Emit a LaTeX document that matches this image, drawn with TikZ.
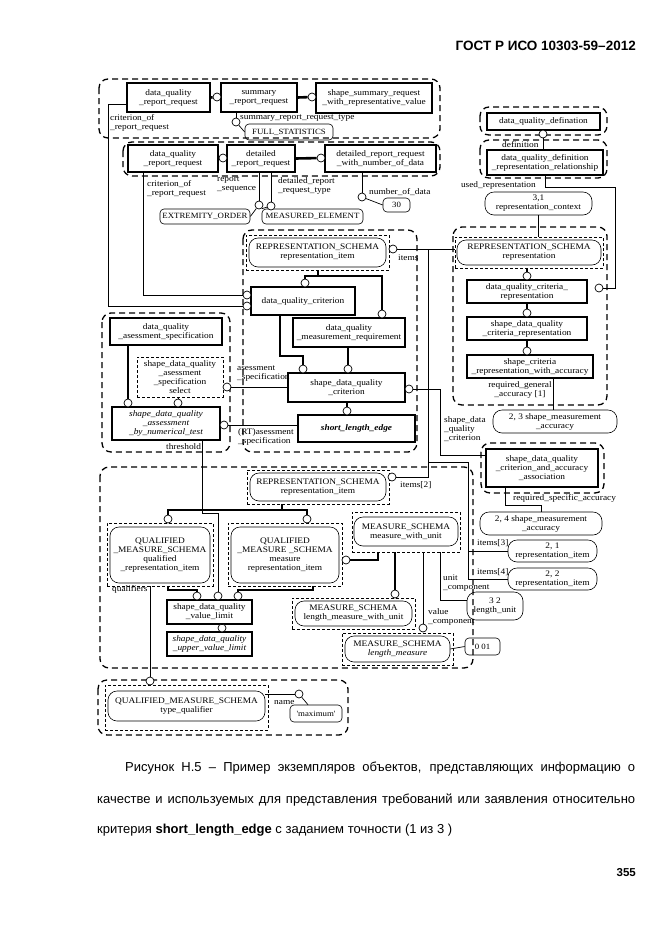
\documentclass[tikz,border=0pt]{standalone}
\usepackage{fontspec}
\setmainfont{Liberation Serif}[FakeStretch=1.1]
\newfontfamily\capfont{Liberation Sans}
\newcommand{\dgfont}{\fontsize{8.5}{9}\selectfont}
\newcommand{\valfont}{\fontsize{8}{9}\selectfont}
\newcommand{\capsize}{\capfont\fontsize{13}{15}\selectfont}
\tikzset{
  spot/.style args={#1/#2/#3/#4}{at={({(#1+#3)/2},{(#2+#4)/2})}, minimum width={#3-#1}, minimum height={#4-#2}},
  ent/.style={draw, line width=1.2pt, inner sep=0pt, align=center, font=\dgfont},
  typ/.style={draw, line width=0.6pt, rounded corners=9pt, inner sep=0pt, align=center, font=\dgfont},
  val/.style={draw, line width=0.6pt, rounded corners=4pt, inner sep=0pt, align=center, font=\valfont},
  dsh/.style={draw, line width=0.8pt, dash pattern=on 3pt off 2pt, inner sep=0pt, align=center, font=\dgfont},
  grp/.style={draw, line width=1.3pt, dash pattern=on 6pt off 4pt, rounded corners=9pt},
  oc/.style={circle, draw, fill=white, line width=0.7pt, inner sep=0pt, minimum size=8pt},
  sub/.style={line width=2.6pt},
  rel/.style={line width=0.7pt},
  lbl/.style={font=\dgfont, inner sep=0pt, align=left},
}
\begin{document}
\begin{tikzpicture}[x=1pt,y=-1pt]
\useasboundingbox (0,0) rectangle (661,935);
\node[anchor=east, inner sep=0pt, font={\capfont\bfseries\fontsize{13.5}{15}\selectfont}] (hdr) at (636,46) {ГОСТ Р ИСО 10303-59–2012};
\node[anchor=east, inner sep=0pt, font={\capfont\bfseries\fontsize{11.5}{14}\selectfont}] (pg) at (636,873) {355};
\node[anchor=west, inner sep=0pt, font=\capsize] (capA) at (125,768) {\makebox[510pt][s]{Рисунок Н.5 – Пример экземпляров объектов, представляющих информацию о}};
\node[anchor=west, inner sep=0pt, font=\capsize] (capB) at (97,800) {\makebox[538pt][s]{качестве и используемых для представления требований или заявления относительно}};
\node[anchor=west, inner sep=0pt, font=\capsize] (capC) at (97,830) {критерия \textbf{short\_length\_edge} с заданием точности (1 из 3 )};

\draw[grp] (99,79) rectangle (440,138);
\draw[grp] (123,142) rectangle (440,176);
\draw[grp] (480,107) rectangle (607,135);
\draw[grp] (480,140) rectangle (607,178);
\draw[grp] (243,230) rectangle (417,452);
\draw[grp] (102,313) rectangle (230,452);
\draw[grp] (453,227) rectangle (607,405);
\draw[grp] (481,443) rectangle (604,493);
\draw[grp] (100,467) rectangle (473,668);
\draw[grp] (98,680) rectangle (348,735);

\node[ent, spot=127/83/210/112] (dqrrA) {data\_quality\\\_report\_request};
\node[ent, spot=221/83/297/112] (summ) {summary\\\_report\_request};
\node[ent, spot=316/83/432/113] (ssr) {shape\_summary\_request\\\_with\_representative\_value};
\node[ent, spot=128/145/218/172] (dqrrB) {data\_quality\\\_report\_request};
\node[ent, spot=227/145/295/172] (det) {detailed\\\_report\_request};
\node[ent, spot=325/145/436/172] (detn) {detailed\_report\_request\\\_with\_number\_of\_data};
\node[ent, spot=487/113/600/130] (dqdef) {data\_quality\_defination};
\node[ent, spot=487/150/603/175] (dqdrr) {data\_quality\_definition\\\_representation\_relationship};

\node[dsh, spot=246/235/389/270] (riMf) {};
\node[typ, spot=249/238/386/267] (riM) {REPRESENTATION\_SCHEMA\\representation\_item};
\node[ent, spot=251/287/355/315] (dqc) {data\_quality\_criterion};
\node[ent, spot=293/318/405/347] (dqmr) {data\_quality\\\_measurement\_requirement};
\node[ent, spot=288/373/405/402] (sdqc) {shape\_data\_quality\\\_criterion};
\node[ent, spot=298/415/415/442, font=\dgfont\bfseries\itshape] (sle) {short\_length\_edge};

\node[ent, spot=110/318/222/345] (dqas) {data\_quality\\\_asessment\_specification};
\node[dsh, spot=137/357/223/397] (sel) {shape\_data\_quality\\\_asessment\\\_specification\\select};
\node[ent, spot=112/407/220/440, font=\dgfont\itshape] (nt) {shape\_data\_quality\\\_assessment\\\_by\_numerical\_test};

\node[typ, spot=485/192/592/215] (rc) {3,1\\representation\_context};
\node[dsh, spot=455/237/603/268] (rsrf) {};
\node[typ, spot=457/240/601/265] (rsr) {REPRESENTATION\_SCHEMA\\representation};
\node[ent, spot=467/280/587/303] (dqcr) {data\_quality\_criteria\_\\representation};
\node[ent, spot=467/317/587/340] (sdqcr) {shape\_data\_quality\\\_criteria\_representation};
\node[ent, spot=467/355/593/378] (scrwa) {shape\_criteria\\\_representation\_with\_accuracy};
\node[typ, spot=493/410/617/433] (aA) {2, 3 shape\_measurement\\\_accuracy};
\node[ent, spot=486/449/598/487] (assoc) {shape\_data\_quality\\\_criterion\_and\_accuracy\\\_association};
\node[typ, spot=480/512/602/535] (aB) {2, 4 shape\_measurement\\\_accuracy};
\node[typ, spot=508/540/597/562] (riA) {2, 1\\representation\_item};
\node[typ, spot=508/568/597/590] (riB) {2, 2\\representation\_item};
\node[typ, spot=467/592/523/620] (lu) {3 2\\length\_unit};

\node[dsh, spot=247/470/389/504] (riQf) {};
\node[typ, spot=250/473/386/501] (riQ) {REPRESENTATION\_SCHEMA\\representation\_item};
\node[dsh, spot=107/523/213/586] (qrif) {};
\node[typ, spot=110/527/210/583] (qri) {QUALIFIED\\\_MEASURE\_SCHEMA\\qualified\\\_representation\_item};
\node[dsh, spot=228/523/342/586] (mrif) {};
\node[typ, spot=231/527/339/583] (mri) {QUALIFIED\\\_MEASURE \_SCHEMA\\measure\\representation\_item};
\node[dsh, spot=352/512/460/552] (mwuf) {};
\node[typ, spot=354/517/458/546] (mwu) {MEASURE\_SCHEMA\\measure\_with\_unit};
\node[dsh, spot=292/598/415/629] (lmwuf) {};
\node[typ, spot=295/601/412/626] (lmwu) {MEASURE\_SCHEMA\\length\_measure\_with\_unit};
\node[dsh, spot=342/633/453/665] (lmf) {};
\node[typ, spot=345/636/450/662] (lm) {MEASURE\_SCHEMA\\\textit{length\_measure}};
\node[ent, spot=167/600/252/624] (svl) {shape\_data\_quality\\\_value\_limit};
\node[ent, spot=167/632/252/656, font=\dgfont\itshape] (suvl) {shape\_data\_quality\\\_upper\_value\_limit};
\node[dsh, spot=105/685/268/730] (tqf) {};
\node[typ, spot=108/691/265/721] (tq) {QUALIFIED\_MEASURE\_SCHEMA\\type\_qualifier};

\node[val, spot=245/124/333/140] (vFull) {FULL\_STATISTICS};
\node[val, spot=160/209/250/224] (vExt) {EXTREMITY\_ORDER};
\node[val, spot=262/209/363/224] (vMeas) {MEASURED\_ELEMENT};
\node[val, spot=383/198/410/212] (v30) {30};
\node[val, spot=465/638/500/655] (v001) {0 01};
\node[val, spot=290/705/342/722] (vMax) {\textquotesingle maximum\textquotesingle};

\node[oc] (cSumm) at (217,97) {};
\node[oc] (cSsr) at (312,97) {};
\node[oc] (cFull) at (236,122) {};
\node[oc] (cDet) at (223,158) {};
\node[oc] (cDetn) at (321,158) {};
\node[oc] (cSeq) at (259,205) {};
\node[oc] (cType) at (271,206) {};
\node[oc] (cNum) at (362,197) {};
\node[oc] (cDef) at (543,134) {};
\node[oc] (cCritA) at (247,295) {};
\node[oc] (cCritB) at (247,306) {};
\node[oc] (cItem) at (393,249) {};
\node[oc] (cDqc) at (305,283) {};
\node[oc] (cDqmr) at (382,314) {};
\node[oc] (cSdqcA) at (303,369) {};
\node[oc] (cSdqcB) at (348,369) {};
\node[oc] (cSdqcR) at (409,389) {};
\node[oc] (cSle) at (347,411) {};
\node[oc] (cNtA) at (128,403) {};
\node[oc] (cNtB) at (178,403) {};
\node[oc] (cSel) at (227,387) {};
\node[oc] (cNtR) at (224,425) {};
\node[oc] (cDqcr) at (527,276) {};
\node[oc] (cSdqcr) at (527,313) {};
\node[oc] (cScrwa) at (527,351) {};
\node[oc] (cUsed) at (599,288) {};
\node[oc] (cItemQ) at (392,477) {};
\node[oc] (cQri) at (168,519) {};
\node[oc] (cMri) at (307,519) {};
\node[oc] (cMriR) at (346,560) {};
\node[oc] (cLmwu) at (395,594) {};
\node[oc] (cLm) at (423,628) {};
\node[oc] (cSvlA) at (197,596) {};
\node[oc] (cSvlB) at (218,596) {};
\node[oc] (cSvlC) at (238,596) {};
\node[oc] (cSuvl) at (222,628) {};
\node[oc] (cTq) at (150,681) {};
\node[oc] (cName) at (299,694) {};

\draw[sub] (dqrrA.east) -- (cSumm);
\draw[sub] (summ.east) -- (cSsr);
\draw[rel] (summ.south -| cFull) -- (cFull);
\draw[rel] (cFull) -- (vFull.west);
\draw[rel] (dqrrA.west |- 0,104) -- (108,104) -- (108,306) -- (cCritB);
\draw[rel] (dqrrB.east) -- (cDet);
\draw[sub] (det.east) -- (cDetn);
\draw[rel] (dqrrB.south -| 143,0) -- (143,295) -- (cCritA);
\draw[rel] (det.south -| cSeq) -- (cSeq);
\draw[rel] (cSeq) -- (vExt.east);
\draw[rel] (det.south -| cType) -- (cType);
\draw[rel] (cType) -- (vMeas.north west);
\draw[rel] (detn.south -| cNum) -- (cNum);
\draw[rel] (cNum) -- (v30.west);
\draw[rel] (dqdrr.north -| cDef) -- (cDef);
\draw[rel] (dqdrr.south -| 545,0) -- (545,187) -- (615,187) -- (615,288) -- (cUsed);
\draw[rel] (rc.south) -- (rc.south |- rsrf.north);
\draw[rel] (rsrf.west |- cItem) -- (cItem);
\draw[rel] (428,249) -- (428,477) -- (cItemQ);
\draw[rel] (428,462) -- (468,462) -- (468,579) -- (riB.west);
\draw[rel] (468,551) -- (riA.west);

\draw[sub] (riMf.south -| 318,0) -- (318,276) -| (cDqc);
\draw[sub] (318,276) -| (cDqmr);
\draw[sub] (dqc.south -| 280,0) -- (280,356) -| (cSdqcA);
\draw[sub] (dqmr.south -| cSdqcB) -- (cSdqcB);
\draw[sub] (sdqc.south -| cSle) -- (cSle);
\draw[rel] (cSdqcR) -- (440,389) -- (440,455) -- (assoc.west |- 0,455);
\draw[rel] (sle.west |- cNtR) -- (cNtR);
\draw[rel] (sdqc.west |- cSel) -- (cSel);
\draw[sub] (dqas.south -| cNtA) -- (cNtA);
\draw[rel] (sel.south -| cNtB) -- (cNtB);
\draw[rel] (nt.south -| 202,0) -- (202,513) -- (218,513) -- (cSvlB);

\draw[sub] (rsrf.south -| cDqcr) -- (cDqcr);
\draw[sub] (dqcr.south -| cSdqcr) -- (cSdqcr);
\draw[sub] (sdqcr.south -| cScrwa) -- (cScrwa);
\draw[rel] (scrwa.south -| 553,0) -- (aA.north -| 553,0);
\draw[rel] (assoc.south -| 505,0) -- (505,505) -| (aB.north);

\draw[sub] (riQf.south -| 282,0) -- (282,510) -| (cQri);
\draw[sub] (282,510) -| (cMri);
\draw[sub] (qrif.south -| 168,0) -- (168,590) -| (cSvlA);
\draw[sub] (mrif.south -| 313,0) -- (313,590) -| (cSvlC);
\draw[rel] (qrif.south -| cTq) -- (cTq);
\draw[sub] (mwuf.south -| 378,0) |- (cMriR);
\draw[sub] (mwuf.south -| cLmwu) -- (cLmwu);
\draw[rel] (mwuf.south -| cLm) -- (cLm);
\draw[rel] (mwuf.south -| 440,0) |- (lu.west |- 0,600);
\draw[rel] (lm.east) -- (v001.west);
\draw[sub] (svl.south -| cSuvl) -- (cSuvl);
\draw[rel] (tq.east |- cName) -- (cName);
\draw[rel] (cName) -- ([xshift=-8pt]vMax.north);

\node[lbl, anchor=north west] (lCritA) at (110,114) {criterion\_of\\\_report\_request};
\node[lbl, anchor=west] (lSrt) at (240,118) {summary\_report\_request\_type};
\node[lbl, anchor=north west] (lCritB) at (147,180) {criterion\_of\\\_report\_request};
\node[lbl, anchor=north west] (lSeq) at (217,177) {report\\\_sequence};
\node[lbl, anchor=north west] (lDrt) at (278,177) {detailed\_report\\\_request\_type};
\node[lbl, anchor=west] (lNum) at (369,192) {number\_of\_data};
\node[lbl, anchor=west] (lDef) at (502,145) {definition};
\node[lbl, anchor=east] (lUsed) at (536,185) {used\_representation};
\node[lbl, anchor=north west] (lItA) at (398,255) {items\\[1]};
\node[lbl, anchor=north west] (lAsA) at (237,366) {asessment\\\_specification};
\node[lbl, anchor=north west] (lAsB) at (238,428) {(RT)asessment\\\_specification};
\node[lbl, anchor=west] (lThr) at (166,447) {threshold};
\node[lbl, anchor=north west] (lCritC) at (444,416) {shape\_data\\\_quality\\\_criterion};
\node[lbl, anchor=north, align=center] (lGen) at (520,381) {required\_general\\\_accuracy [1]};
\node[lbl, anchor=west] (lSpec) at (513,498) {required\_specific\_accuracy};
\node[lbl, anchor=west] (lItB) at (400,485) {items[2]};
\node[lbl, anchor=west] (lItC) at (477,543) {items[3]};
\node[lbl, anchor=west] (lItD) at (477,572) {items[4]};
\node[lbl, anchor=north west] (lUnit) at (443,575) {unit\\\_component};
\node[lbl, anchor=north west] (lVal) at (428,608) {value\\\_component};
\node[lbl, anchor=north west] (lQual) at (112,585) {qualifiers\\[1]};
\node[lbl, anchor=west] (lName) at (274,703) {name};
\end{tikzpicture}
\end{document}
